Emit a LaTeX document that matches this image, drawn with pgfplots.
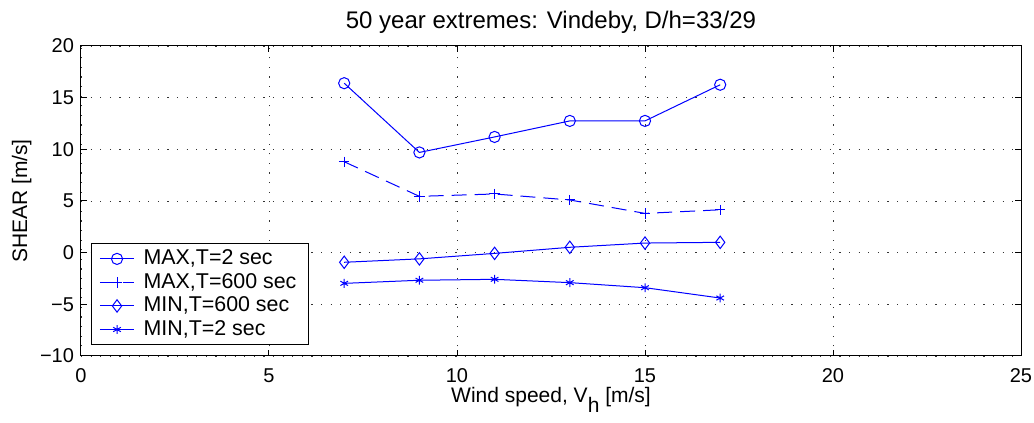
\documentclass[border=0pt]{standalone}
\usepackage{fontspec}
\setmainfont{Liberation Sans}
\usepackage{pgfplots}
\pgfplotsset{compat=1.18}
\definecolor{mblue}{rgb}{0,0,1}
\begin{document}
\fontsize{10}{12}\selectfont
\begin{tikzpicture}
\begin{axis}[
  name=ax,
  width=470pt, height=155pt, scale only axis,
  xmin=0, xmax=25, ymin=-10, ymax=20,
  xtick={0,5,...,25}, ytick={-10,-5,...,20},
  yticklabels={−10,−5,0,5,10,15,20},
  tick align=inside, major tick length=3pt,
  grid=major,
  major grid style={black!80, line width=0.45pt, dash pattern=on 0.6pt off 4.2pt},
  axis line style={line width=0.5pt},
  tick style={black, line width=0.5pt},
  /pgf/number format/assume math mode=true,
  ticklabel style={font=\fontsize{10}{12}\selectfont},
  xticklabel style={anchor=base, yshift=-13.5pt},
  title={50 year extremes: Vindeby, D/h=33/29},
  every axis title shift=0pt,
  title style={font=\fontsize{12}{14}\selectfont, at={(axis description cs:0.5,1.055)}, anchor=base},
  xlabel={Wind speed, V\raisebox{-4.8pt}{h} [m/s]},
  ylabel={SHEAR [m/s]},
  xlabel style={font=\fontsize{10.5}{12}\selectfont, at={(axis description cs:0.5,-0.1516)}, anchor=base},
  ylabel style={font=\fontsize{10.5}{12}\selectfont, at={(axis description cs:-0.0574,0.5)}, anchor=base},
  legend style={at={(axis description cs:0.0106,0.0355)}, anchor=south west, font=\fontsize{10.7}{12}\selectfont,
    draw=black, line width=0.5pt, inner xsep=4pt, inner ysep=1pt, row sep=-1.2pt,
    cells={anchor=west}},
  legend cell align=left,
]
\addplot[mblue, line width=0.5pt, mark=o, mark size=2.8pt, mark options={mblue}] coordinates {(7,16.4) (9,9.7) (11,11.2) (13,12.75) (15,12.75) (17,16.25)};
\addplot[mblue, line width=0.5pt, mark=+, mark size=2.6pt, dash pattern=on 7.5pt off 4pt, mark options={mblue, solid}] coordinates {(7,8.8) (9,5.45) (11,5.68) (13,5.1) (15,3.8) (17,4.15)};
\addplot[mblue, line width=0.5pt, mark=diamond, mark size=3.1pt, mark options={mblue}] coordinates {(7,-0.93) (9,-0.6) (11,-0.07) (13,0.52) (15,0.93) (17,1.0)};
\addplot[mblue, line width=0.5pt, mark=asterisk, mark size=2.2pt, mark options={mblue}] coordinates {(7,-2.97) (9,-2.67) (11,-2.58) (13,-2.9) (15,-3.39) (17,-4.39)};
\legend{\hspace{2.5pt}MAX{,}T=2 sec, \hspace{2.5pt}MAX{,}T=600 sec, \hspace{2.5pt}MIN{,}T=600 sec, \hspace{2.5pt}MIN{,}T=2 sec}
\end{axis}
\pgfresetboundingbox
\path (ax.south west) ++(-40.5pt,-33.5pt) rectangle ++(517pt,211.5pt);
\end{tikzpicture}
\end{document}
